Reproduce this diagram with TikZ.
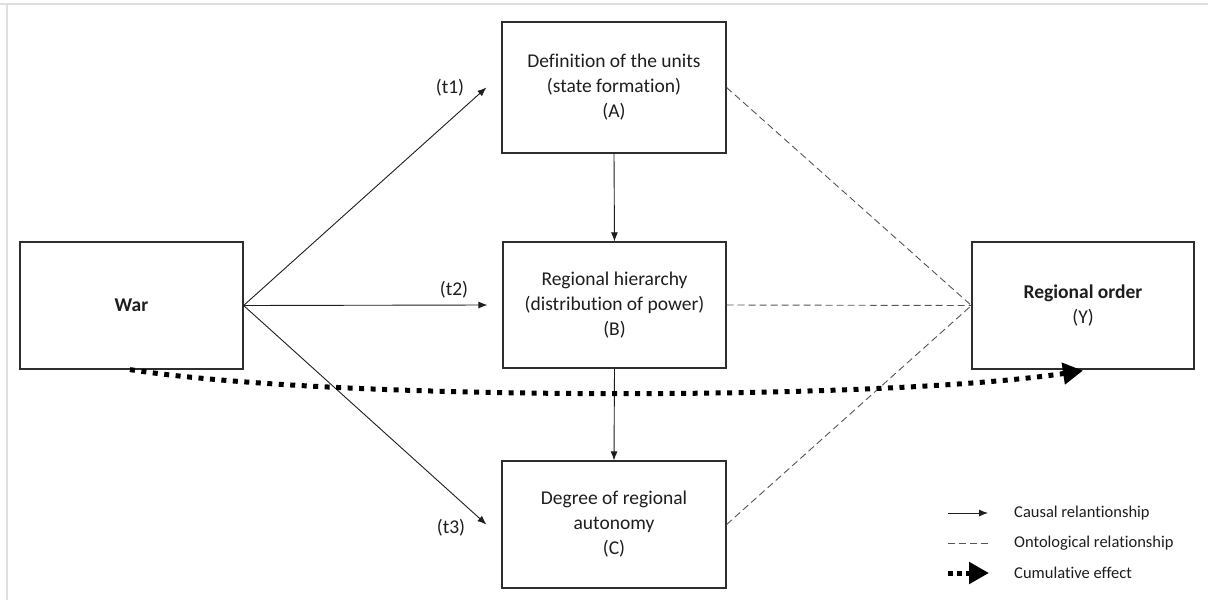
\documentclass[tikz,border=0pt]{standalone}
\usepackage{fontspec}
\setmainfont{Carlito}[Ligatures=NoCommon]
\usetikzlibrary{arrows.meta,calc}
\definecolor{ink}{HTML}{1E1E1E}
\definecolor{edge}{HTML}{2E2E2E}
\definecolor{dashc}{HTML}{555555}
\tikzset{
  box/.style={draw=edge, line width=1.2pt, fill=white, inner sep=0pt, align=center,
    text=ink, font=\fontsize{19.5}{25}\selectfont},
  causal/.style={draw=ink, line width=0.9pt, -{Latex[length=9pt,width=7pt]}},
  onto/.style={draw=dashc, line width=0.9pt, dash pattern=on 7pt off 4pt},
  cum/.style={draw=black, line width=5pt, line cap=butt, dash pattern=on 5pt off 6.5pt,
    -{Triangle[length=20pt,width=21pt]}},
  tlab/.style={text=ink, font=\fontsize{19.5}{25}\selectfont, inner sep=0pt},
  leglab/.style={text=ink, font=\fontsize{16.5}{20}\selectfont, inner sep=0pt, anchor=west}
}
\begin{document}
\begin{tikzpicture}[x=1pt,y=-1pt]
\useasboundingbox (0,0) rectangle (1208,600);
\fill[white] (0,0) rectangle (1208,600);
% faint frame
\draw[gray!25, line width=2pt] (0,4) -- (1208,4);
\draw[gray!25, line width=2pt] (7,4) -- (7,600);

% boxes
\node[box, minimum width=223pt, minimum height=127pt] (war) at (131.5,305.5) {\textbf{War}};
\node[box, minimum width=224pt, minimum height=131pt] (A) at (614,87.5) {Definition of the units\\(state formation)\\(A)};
\node[box, minimum width=223pt, minimum height=126pt] (B) at (614.5,305) {Regional hierarchy\\(distribution of power)\\(B)};
\node[box, minimum width=224pt, minimum height=127pt] (C) at (614,524.5) {Degree of regional\\autonomy\\(C)};
\node[box, minimum width=222pt, minimum height=127pt] (Y) at (1083,305.5) {\textbf{Regional order}\\(Y)};

% arrow ends
\coordinate (ta) at ($(A.west)+(-15,0)$);
\coordinate (tb) at ($(B.west)+(-15,0)$);
\coordinate (tc) at ($(C.west)+(-15,0)$);

% causal arrows
\draw[causal] (war.east) -- (ta);
\draw[causal] (war.east) -- (tb);
\draw[causal] (war.east) -- (tc);
\draw[causal] (A.south) -- (B.north);
\draw[causal] (B.south) -- (C.north);

% ontological
\draw[onto] (A.east) -- (Y.west);
\draw[onto] (B.east) -- (Y.west);
\draw[onto] (C.east) -- (Y.west);

% labels
\node[tlab] (t1) at (450,88) {(t1)};
\node[tlab] (t2) at (454,290) {(t2)};
\node[tlab] (t3) at (451,528) {(t3)};

% cumulative effect
\draw[cum] ($(war.south)+(-1.5,0)$) .. controls (330,401) and (880,401) .. ($(Y.south)+(0,1)$);

% legend
\coordinate (l1a) at (948,513); \coordinate (l1b) at (988,513);
\coordinate (l2a) at (948,543); \coordinate (l2b) at (988,543);
\coordinate (l3a) at (948,573); \coordinate (l3b) at (989,573);
\draw[causal] (l1a) -- (l1b);
\draw[onto] (l2a) -- (l2b);
\draw[cum, dash pattern=on 5pt off 4pt] (l3a) -- (l3b);
\node[leglab] (lg1) at (1014,513) {Causal relantionship};
\node[leglab] (lg2) at (1014,543) {Ontological relationship};
\node[leglab] (lg3) at (1014,573) {Cumulative effect};
\end{tikzpicture}
\end{document}
